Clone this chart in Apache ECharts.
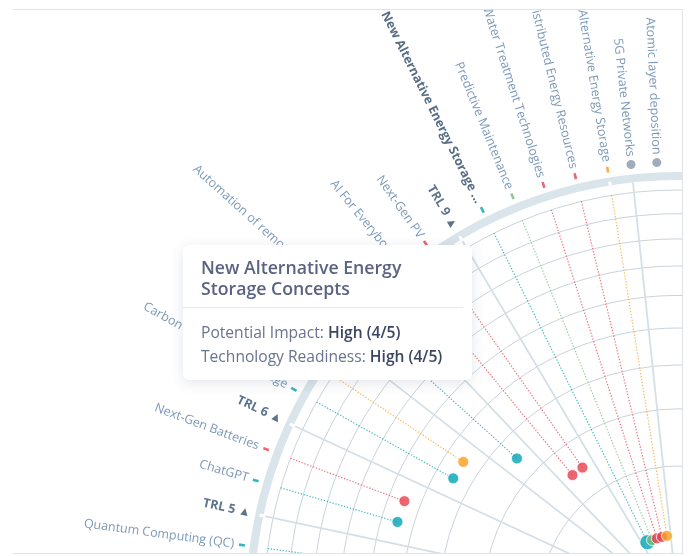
<!DOCTYPE html>
<html><head><meta charset="utf-8">
<script src="https://cdn.jsdelivr.net/npm/echarts@6.0.0/dist/echarts.min.js"></script>
<style>
html,body{margin:0;padding:0;background:#fff;width:688px;height:556px;overflow:hidden}
#frame{position:absolute;left:13px;top:9px;width:670px;height:545px;box-sizing:border-box;border-top:1px solid #dfe3e8;border-right:1px solid #dfe3e8;border-bottom:1px solid #dfe3e8;overflow:hidden}
#chart{position:absolute;left:0;top:0;width:669px;height:544px}
</style></head>
<body><div id="frame"><div id="chart"></div></div>
<script>
// ---------------- data ----------------
const techNames = ['Atomic layer deposition','5G Private Networks','Alternative Energy Storage','Distributed Energy Resources','Water Treatment Technologies','Predictive Maintenance','New Alternative Energy Storage Concepts','Next-Gen PV','AI For Everybody','Automation of remote operations','Industrial Internet (IIoT)','Carbon capture and storage','Next-Gen Batteries','ChatGPT','Quantum Computing (QC)'];
const techSlots = [-1.5,-0.72,0,1,2,3,4,6,7,9,11,12,14,15,17];
const techGroup = ['None','None','Storage','Energy','Energy','Operations','Digital','Energy','Energy','Digital','Storage','Digital','Energy','Digital','Digital'];
const techBand  = [null,null,1,1,1,1,1,2,2,3,4,4,5,5,5];
const trlLabels = ['TRL 9','TRL 8','TRL 7','TRL 6','TRL 5','TRL 4'];
const trlSlots  = [5,8,10,13,16,18];
const separatorSlots = [-0.72];
const ringGapSlots = [0,5,8,10,13,16,18];
const ringLevels = [1,2,3,4,5,6,7,8,9];
const highlighted = 'New Alternative Energy Storage Concepts';
const hlImpact = 'High (4/5)';
const hlReadiness = 'High (4/5)';

// ---------------- layout / style ----------------
const groupColor = {Digital:'#04a2b3', Energy:'#e73f4c', Operations:'#76b97b', Storage:'#f69f1e', None:'#8797a8'};
const CENTER = [665, 594];
const RING_R = 428;          // thick outer ring radius (px)
const PX_PER_UNIT = 138;     // px per sqrt(level)
const SLOT_DEG = 4.3;
const SLOT0_ANGLE = 99.2;
const A_MIN = -2;
const rMax = RING_R / PX_PER_UNIT;
const pxToS = px => px / PX_PER_UNIT;
const levelToS = lv => Math.sqrt(lv);
const bandToS = b => (Math.sqrt(b - 1) + Math.sqrt(b)) / 2;
const angleOf = slot => SLOT0_ANGLE + slot * SLOT_DEG;
const FONT = "'Open Sans', 'Noto Sans', sans-serif";

const series = [];
// spokes
[...trlSlots, ...separatorSlots].forEach(sl => {
  series.push({type:'line', coordinateSystem:'polar', silent:true, symbol:'none', z:1, clip:false,
    lineStyle:{color:'#d5dfe7', width:1.8}, data:[[0, sl],[pxToS(424), sl]], tooltip:{show:false}});
});
// ring gaps
ringGapSlots.forEach(sl => {
  series.push({type:'line', coordinateSystem:'polar', silent:true, symbol:'none', z:3, clip:false,
    lineStyle:{color:'#ffffff', width:3}, data:[[pxToS(422), sl],[pxToS(435), sl]], tooltip:{show:false}});
});
// dotted leader lines
techNames.forEach((n, i) => {
  if (techBand[i] == null) return;
  series.push({type:'line', coordinateSystem:'polar', silent:true, symbol:'none', z:2, clip:false,
    lineStyle:{color:groupColor[techGroup[i]], width:1.2, type:[1.3,1.7], opacity:0.75},
    data:[[levelToS(9), techSlots[i]],[bandToS(techBand[i]), techSlots[i]]], tooltip:{show:false}});
});
// bubbles (drawn from last slot to first)
const order = techNames.map((n,i)=>i).filter(i => techBand[i] != null).sort((a,b)=>techSlots[b]-techSlots[a]);
const bubbleData = order.map(i => ({
  name: techNames[i],
  value: [bandToS(techBand[i]), techSlots[i]],
  symbolSize: techNames[i] === highlighted ? 15 : 11,
  itemStyle: {color: groupColor[techGroup[i]], borderColor:'#fff', borderWidth:1}
}));
const bubbleSeriesIndex = series.length;
series.push({type:'scatter', coordinateSystem:'polar', z:5, clip:false, data:bubbleData, emphasis:{disabled:true}});
// ticks & gray dots
techNames.forEach((n, i) => {
  const none = techGroup[i] === 'None';
  series.push({type:'scatter', coordinateSystem:'polar', silent:true, z:4, clip:false, tooltip:{show:false},
    symbol: none ? 'circle' : 'rect', symbolSize: none ? 9 : [6, 2.6], symbolRotate: angleOf(techSlots[i]),
    itemStyle:{color: groupColor[techGroup[i]]},
    data:[[pxToS(none ? 442 : 440), techSlots[i]]]});
});
// technology labels
const labelData = techNames.map((n, i) => {
  const hl = n === highlighted;
  const txt = n.length > 30 ? n.slice(0, 30) + ' ...' : n;
  return {value:[pxToS(techGroup[i] === 'None' ? 450 : 448), techSlots[i]], name:n,
    label:{show:true, formatter: txt, rotate: angleOf(techSlots[i]) - 180, position:'inside', align:'right', verticalAlign:'middle',
      fontFamily: FONT, fontSize: 12.5, fontWeight: hl ? 'bold' : 'normal', color: hl ? '#2d4868' : '#5b80a6'}};
});
series.push({type:'scatter', coordinateSystem:'polar', silent:true, z:4, clip:false, symbolSize:0, tooltip:{show:false}, data:labelData});
// TRL labels
const trlData = trlLabels.map((t, i) => ({value:[pxToS(437), trlSlots[i]],
  label:{show:true, formatter: t + ' ▲', rotate: angleOf(trlSlots[i]) - 180, position:'inside', align:'right', verticalAlign:'middle',
    fontFamily: FONT, fontSize: 12.5, fontWeight:'bold', color:'#34506f'}}));
series.push({type:'scatter', coordinateSystem:'polar', silent:true, z:4, clip:false, symbolSize:0, tooltip:{show:false}, data:trlData});

const tipHtml = name => `
<div style="width:289px;height:135px;box-sizing:border-box;font-family:${FONT};text-align:left;white-space:normal">
  <div style="padding:12px 14px 0 18px;font-size:17.7px;line-height:21px;font-weight:600;color:#5a6381">${name}</div>
  <div style="margin:8px 9px 0 0;border-top:1px solid #e5e9ee"></div>
  <div style="padding:12px 10px 0 18px;font-size:15.6px;line-height:24px;color:#6a7390;white-space:nowrap">
    Potential Impact: <span style="font-weight:600;color:#3b4462">${hlImpact}</span><br>
    Technology Readiness: <span style="font-weight:600;color:#3b4462">${hlReadiness}</span>
  </div>
</div>`;

const chart = echarts.init(document.getElementById('chart'), null, {renderer:'canvas'});
chart.setOption({
  animation:false,
  backgroundColor:'#ffffff',
  textStyle:{fontFamily: FONT},
  polar:{center: CENTER, radius: RING_R},
  angleAxis:{type:'value', min:A_MIN, max:A_MIN + 360 / SLOT_DEG, startAngle: angleOf(A_MIN), clockwise:false,
    axisLine:{show:true, lineStyle:{color:'#d9e4eb', width:8}}, axisTick:{show:false}, axisLabel:{show:false}, splitLine:{show:false}},
  radiusAxis:{type:'value', min:0, max:rMax, axisLine:{show:false}, axisLabel:{show:false},
    axisTick:{show:false, customValues: ringLevels.map(levelToS)},
    splitLine:{show:true, lineStyle:{color:'#cad4db', width:1}}},
  tooltip:{trigger:'item', alwaysShowContent:true, transitionDuration:0, showDelay:0, hideDelay:0,
    position:[170, 235], padding:0, borderWidth:0, backgroundColor:'#ffffff',
    extraCssText:'box-shadow:0 3px 14px rgba(40,55,90,0.13);border-radius:6px;',
    formatter: p => tipHtml(p.name)},
  series: series
});
chart.dispatchAction({type:'showTip', seriesIndex: bubbleSeriesIndex, dataIndex: order.indexOf(techNames.indexOf(highlighted))});
</script>
</body></html>
